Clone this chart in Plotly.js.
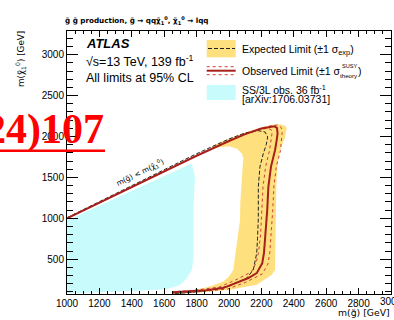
<!DOCTYPE html>
<html><head><meta charset="utf-8">
<script src="https://cdn.plot.ly/plotly-3.0.1.min.js"></script>
<style>html,body{margin:0;padding:0;background:#fff;}#chart{width:394px;height:320px;}</style>
</head><body><div id="chart"></div>
<script>
// Observed limit contour
const obsX = [1000, 1400, 1800, 2000, 2100, 2200, 2250, 2280, 2296, 2300, 2294, 2284, 2259, 2243, 2236, 2230, 2222, 2216, 2205, 2171, 2120, 2068, 1963, 1860, 1759, 1650];
const obsY = [1000, 1385, 1765, 1945, 2030, 2098, 2118, 2124, 2105, 2040, 1950, 1833, 1629, 1385, 1100, 900, 700, 577, 450, 330, 270, 228, 147, 120, 106, 95];
// Observed +/-1 sigma theory
const obsUpX = [1000, 1400, 1800, 2000, 2100, 2200, 2260, 2300, 2322, 2328, 2318, 2292, 2277, 2270, 2262, 2252, 2240, 2205, 2100, 1990, 1800, 1650];
const obsUpY = [1000, 1385, 1765, 1945, 2032, 2102, 2132, 2142, 2112, 2050, 1830, 1630, 1385, 1100, 800, 580, 440, 320, 215, 135, 100, 85];
const obsDnX = [1000, 1400, 1800, 2000, 2100, 2200, 2240, 2262, 2265, 2250, 2226, 2210, 2202, 2195, 2182, 2168, 2138, 2040, 1940, 1760, 1650];
const obsDnY = [1000, 1385, 1765, 1945, 2028, 2090, 2100, 2080, 2030, 1830, 1630, 1385, 1100, 800, 580, 460, 345, 245, 160, 115, 103];
// Expected limit contour
const expX = [1000, 1400, 1800, 2000, 2100, 2180, 2222, 2239, 2230, 2212, 2191, 2181, 2181, 2176, 2171, 2150, 2109, 2006, 1883, 1759, 1650];
const expY = [1008, 1400, 1790, 1970, 2044, 2072, 2056, 1995, 1900, 1793, 1630, 1385, 1000, 750, 573, 370, 268, 174, 125, 92, 80];
// Expected +/-1 sigma band (outer and inner edges)
const bandOutX = [1900, 2000, 2100, 2200, 2270, 2315, 2350, 2356, 2346, 2315, 2298, 2292, 2290, 2288, 2284, 2264, 2171, 2006, 1850, 1650];
const bandOutY = [1890, 1975, 2048, 2112, 2145, 2150, 2130, 2098, 1995, 1833, 1629, 1400, 1100, 700, 368, 309, 187, 126, 95, 72];
const bandInX = [1900, 2000, 2050, 2080, 2088, 2082, 2078, 2070, 2068, 2060, 2047, 2035, 2027, 2000, 1965, 1900, 1841, 1759, 1650];
const bandInY = [1860, 1880, 1850, 1790, 1740, 1600, 1427, 1200, 979, 850, 695, 500, 370, 290, 227, 180, 146, 117, 100];
// SS/3L 36 fb-1 observed exclusion
const ssX = [1000, 1400, 1770, 1790, 1785, 1780, 1780, 1770, 1739, 1698, 1615, 1409, 1039, 1000];
const ssY = [975, 1340, 1671, 1507, 1300, 1101, 491, 368, 268, 186, 134, 113, 85, 80];
// Axis ticks
const xTickVals = [1000, 1200, 1400, 1600, 1800, 2000, 2200, 2400, 2600, 2800, 3000];
const yTickVals = [500, 1000, 1500, 2000, 2500, 3000];

const FONT = 'Liberation Sans, Arial, Helvetica, sans-serif';
const DJ = 'DejaVu Sans, sans-serif';
const L = 67, R = 391, T = 31, B = 294, W = 394, H = 320;
const xp = px => (px - L) / (R - L);
const yp = py => (B - py) / (B - T);

const YEL = '#fee17e', CYAN = '#c8fcfc', DRED = '#a8201c', RED = '#d23c3c';

const traces = [
  {x: ssX, y: ssY, mode: 'lines', fill: 'toself', fillcolor: CYAN, line: {width: 0, color: CYAN}, hoverinfo: 'skip'},
  {x: bandOutX.concat(bandInX.slice().reverse()), y: bandOutY.concat(bandInY.slice().reverse()), mode: 'lines', fill: 'toself', fillcolor: YEL, line: {width: 0, color: YEL}, hoverinfo: 'skip'},
  {x: obsUpX, y: obsUpY, mode: 'lines', line: {color: RED, width: 1, dash: 'dot'}},
  {x: obsDnX, y: obsDnY, mode: 'lines', line: {color: RED, width: 1, dash: 'dot'}},
  {x: expX, y: expY, mode: 'lines', line: {color: '#222', width: 1, dash: '4px,2px'}},
  {x: obsX, y: obsY, mode: 'lines', line: {color: DRED, width: 2}}
];

const ann = (text, px, py, opts) => Object.assign({text: text, xref: 'paper', yref: 'paper', x: xp(px), y: yp(py), xanchor: 'left', yanchor: 'middle', showarrow: false, borderpad: 0, font: {family: FONT, size: 10.5, color: '#000'}}, opts || {});

const annotations = [
  ann('<b>g̃ g̃ production, g̃ → qqχ̃<sub>1</sub><sup>0</sup>, χ̃<sub>1</sub><sup>0</sup> → lqq</b>', 64, 21, {font: {family: DJ, size: 7.2, color: '#000'}}),
  ann('<b><i>ATLAS</i></b>', 85, 44, {font: {family: FONT, size: 13, color: '#000'}}),
  ann('√s=13 TeV, 139 fb<sup>-1</sup>', 85, 61, {font: {family: FONT, size: 12.5, color: '#000'}}),
  ann('All limits at 95% CL', 85, 77.5, {font: {family: FONT, size: 12.5, color: '#000'}}),
  ann('Expected Limit (±1 σ<sub>exp</sub>)', 241, 49.5),
  ann('Observed Limit (±1 σ', 241, 71),
  ann('SUSY', 340.5, 66.3, {font: {family: FONT, size: 5.6, color: '#000'}}),
  ann('theory', 339, 75.8, {font: {family: FONT, size: 6.2, color: '#000'}}),
  ann(')', 357, 71),
  ann('SS/3L obs. 36 fb<sup>-1</sup>', 241, 89.5),
  ann('[arXiv:1706.03731]', 241, 99.5),
  ann('m(g̃) < m(χ̃<sub>1</sub><sup>0</sup>)', 140, 172, {xanchor: 'center', textangle: -25.7, font: {family: DJ, size: 7.3, color: '#000'}}),
  ann('m(g̃) [GeV]', 391.5, 312, {xanchor: 'right', font: {family: DJ, size: 9.3, color: '#000'}}),
  ann('m(χ̃<sub>1</sub><sup>0</sup>) [GeV]', 20, 30, {xanchor: 'center', yanchor: 'top', textangle: -90, font: {family: DJ, size: 8.8, color: '#000'}}),
  ann('3000', 391, 301.5, {xanchor: 'center', font: {family: FONT, size: 10, color: '#000'}}),
  ann('<b>24)107</b>', 105, 129, {xanchor: 'right', font: {family: 'Liberation Serif, Times New Roman, serif', size: 42, color: '#ff0000'}})
];

const shapes = [
  {type: 'rect', xref: 'paper', yref: 'paper', x0: xp(206.7), x1: xp(235.7), y0: yp(57.3), y1: yp(40), fillcolor: YEL, line: {width: 0}},
  {type: 'line', xref: 'paper', yref: 'paper', x0: xp(208), x1: xp(235), y0: yp(48.5), y1: yp(48.5), line: {color: '#222', width: 1, dash: '4px,2px'}},
  {type: 'line', xref: 'paper', yref: 'paper', x0: xp(206.7), x1: xp(235.7), y0: yp(66.7), y1: yp(66.7), line: {color: RED, width: 1, dash: 'dot'}},
  {type: 'line', xref: 'paper', yref: 'paper', x0: xp(206.7), x1: xp(235.7), y0: yp(74.7), y1: yp(74.7), line: {color: RED, width: 1, dash: 'dot'}},
  {type: 'line', xref: 'paper', yref: 'paper', x0: xp(206.7), x1: xp(235.7), y0: yp(70.7), y1: yp(70.7), line: {color: DRED, width: 2}},
  {type: 'rect', xref: 'paper', yref: 'paper', x0: xp(206.7), x1: xp(235.7), y0: yp(100), y1: yp(85), fillcolor: CYAN, line: {width: 0}},
  {type: 'line', xref: 'paper', yref: 'paper', x0: xp(-5), x1: xp(105), y0: yp(150.7), y1: yp(150.7), line: {color: '#ff0000', width: 2.5}}
];

const layout = {
  width: W, height: H,
  margin: {l: L, r: W - R, t: T, b: H - B, pad: 0},
  paper_bgcolor: '#fff', plot_bgcolor: '#fff',
  showlegend: false,
  font: {family: FONT, size: 10, color: '#000'},
  xaxis: {
    range: [1000, 3000], tickvals: xTickVals, ticktext: xTickVals.map(String),
    ticks: 'inside', ticklen: 6, tickwidth: 1, tickcolor: '#000',
    showline: true, linecolor: '#000', linewidth: 1, mirror: 'allticks',
    showgrid: false, zeroline: false, tickfont: {family: FONT, size: 10},
    minor: {ticks: 'inside', ticklen: 3, dtick: 50, tick0: 1000, tickcolor: '#000', showgrid: false}
  },
  yaxis: {
    range: [75, 3290], tickvals: yTickVals, ticktext: yTickVals.map(String),
    ticks: 'inside', ticklen: 11, tickwidth: 1, tickcolor: '#000',
    showline: true, linecolor: '#000', linewidth: 1, mirror: 'allticks',
    showgrid: false, zeroline: false, tickfont: {family: FONT, size: 10},
    minor: {ticks: 'inside', ticklen: 6, dtick: 100, tick0: 0, tickcolor: '#000', showgrid: false}
  },
  annotations: annotations,
  shapes: shapes
};

Plotly.newPlot('chart', traces, layout, {staticPlot: true, displayModeBar: false});
</script></body></html>
